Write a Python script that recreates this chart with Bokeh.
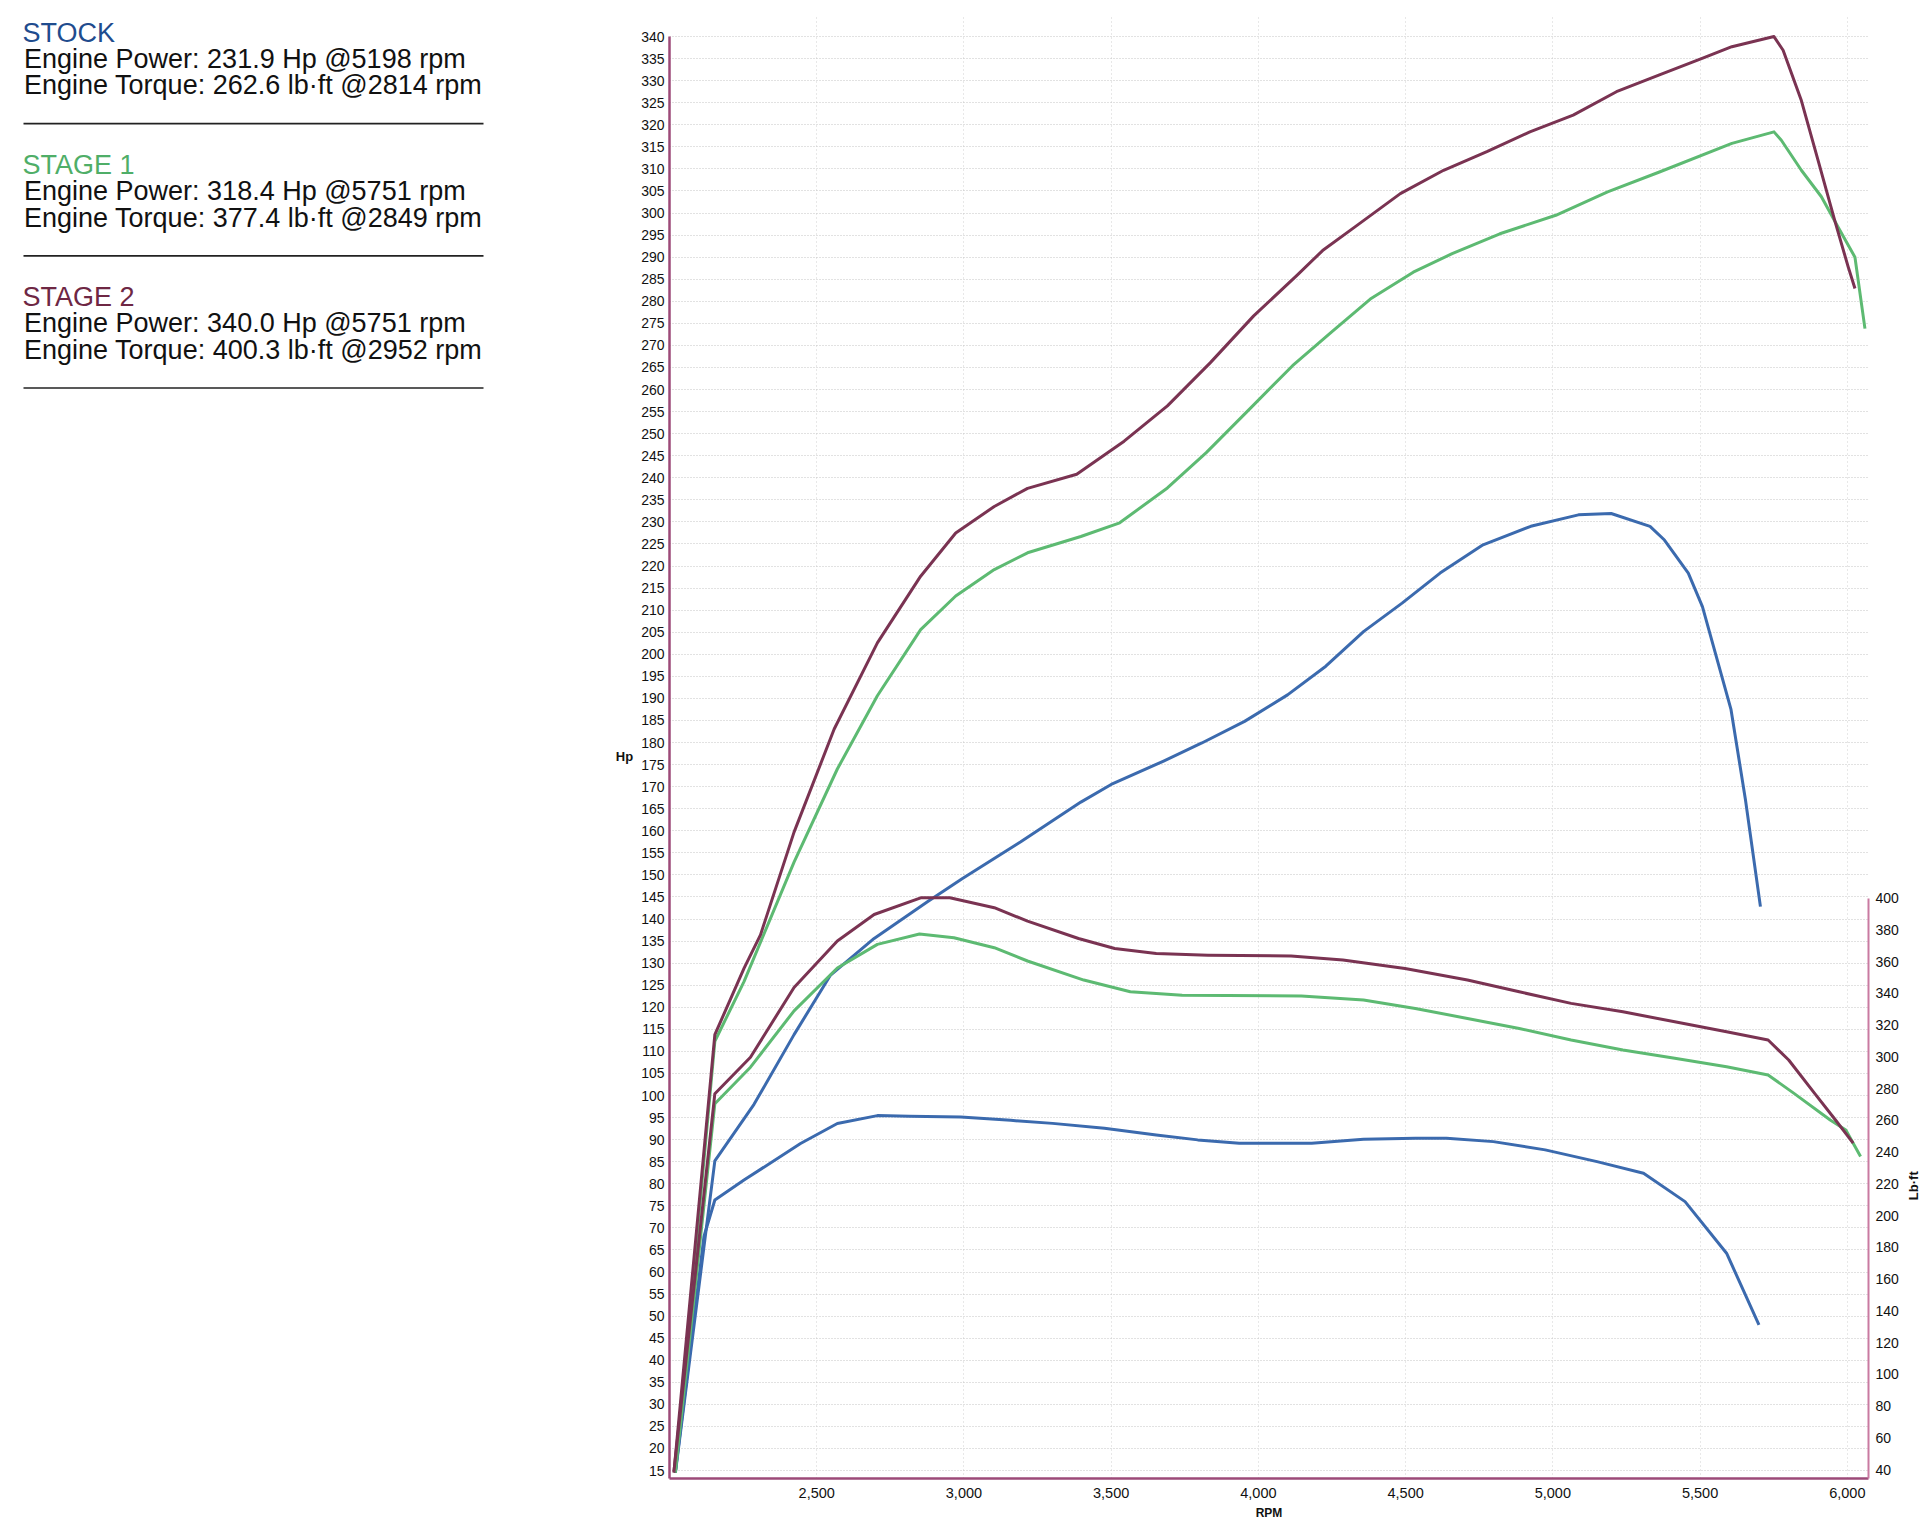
import math
from bokeh.plotting import figure
from bokeh.models import Range1d, LinearAxis, FixedTicker, NumeralTickFormatter
from bokeh.layouts import row
from bokeh.embed import file_html
from bokeh.resources import INLINE
from bokeh.core.properties import value

# ---------------- data ----------------
series_names = ["STOCK", "STAGE 1", "STAGE 2"]
peak_hp = [231.9, 318.4, 340.0]
peak_hp_rpm = [5198, 5751, 5751]
peak_tq = [262.6, 377.4, 400.3]
peak_tq_rpm = [2814, 2849, 2952]

stock_power_rpm = [2020, 2154, 2287, 2423, 2547, 2695, 2876, 2995, 3193, 3397, 3500, 3678, 3808,
                   3953, 4099, 4229, 4358, 4488, 4617, 4763, 4925, 5087, 5198, 5330, 5379, 5460,
                   5508, 5605, 5654, 5705]
stock_power = [14.5, 85.2, 98.0, 113.8, 127.3, 135.6, 143.9, 149.2, 157.5, 166.5, 170.5, 175.8, 179.9,
               184.8, 190.8, 197.3, 205.2, 211.6, 218.4, 224.8, 229.0, 231.6, 231.9, 229.0, 225.9, 218.4,
               210.8, 187.5, 167.1, 142.8]

stock_torque_rpm = [2020, 2117, 2154, 2253, 2445, 2570, 2706, 2814, 2989, 3159, 3301, 3477, 3653, 3794,
                    3935, 4181, 4357, 4533, 4639, 4798, 4974, 5150, 5308, 5449, 5590, 5700]
stock_torque = [38.6, 186.8, 209.8, 222.4, 245.4, 258.0, 263.0, 262.6, 262.1, 260.0, 258.1, 255.0, 250.8, 247.7,
                245.6, 245.6, 248.1, 248.7, 248.7, 246.6, 241.4, 234.0, 226.7, 208.8, 176.3, 131.2]

stage1_power_rpm = [2020, 2154, 2253, 2423, 2570, 2706, 2853, 2972, 3103, 3216, 3397, 3529, 3691, 3823,
                    3969, 4116, 4248, 4380, 4526, 4658, 4820, 5010, 5186, 5362, 5608, 5751, 5776, 5844,
                    5912, 5969, 6026, 6060]
stage1_power = [14.5, 112.3, 125.8, 152.9, 174.0, 190.6, 205.6, 213.2, 219.2, 223.0, 226.7, 229.8, 237.7, 245.7,
                255.5, 265.4, 273.0, 280.5, 286.6, 290.8, 295.3, 299.5, 304.8, 309.3, 315.8, 318.4, 316.5, 309.7,
                303.7, 296.8, 290.0, 273.8]

stage1_torque_rpm = [2020, 2154, 2275, 2423, 2570, 2706, 2849, 2966, 3103, 3216, 3407, 3565, 3741, 4146,
                     4357, 4533, 4710, 4886, 5062, 5238, 5414, 5590, 5731, 5819, 5942, 5995, 6045]
stage1_torque = [38.6, 270.5, 293.5, 329.0, 356.0, 370.9, 377.4, 375.0, 368.8, 360.4, 348.4, 341.0, 338.9, 338.3,
                 335.8, 330.5, 324.2, 317.9, 310.6, 304.3, 299.1, 293.8, 288.6, 277.0, 260.2, 253.9, 237.2]

stage2_power_rpm = [2015, 2154, 2253, 2309, 2423, 2559, 2706, 2853, 2972, 3103, 3216, 3383, 3544, 3691,
                    3837, 3984, 4130, 4218, 4335, 4482, 4629, 4776, 4922, 5069, 5216, 5362, 5509, 5608,
                    5751, 5782, 5844, 5901, 5957, 6003, 6026]
stage2_power = [14.5, 113.8, 128.8, 136.4, 159.7, 183.0, 202.6, 217.7, 227.5, 233.5, 237.6, 240.8, 248.3, 256.3,
                266.1, 276.7, 285.8, 291.5, 297.2, 304.4, 309.7, 313.9, 318.4, 322.2, 327.5, 331.3, 335.1, 337.7,
                340.0, 336.9, 325.5, 311.9, 298.4, 287.8, 282.9]

stage2_torque_rpm = [2015, 2154, 2275, 2423, 2570, 2695, 2853, 2952, 3103, 3216, 3389, 3512, 3653, 3829,
                     4111, 4287, 4498, 4710, 4886, 5062, 5238, 5414, 5590, 5731, 5801, 5889, 5960, 6020]
stage2_torque = [38.6, 276.8, 299.8, 343.7, 373.0, 389.7, 400.2, 400.3, 394.0, 385.5, 374.6, 368.3, 365.1, 364.1,
                 363.5, 361.0, 355.7, 348.4, 341.0, 333.7, 328.4, 322.1, 315.8, 310.6, 298.0, 277.0, 260.2, 245.6]

hp_ticks = list(range(15, 341, 5))
tq_ticks = list(range(40, 401, 20))
rpm_ticks = list(range(2500, 6001, 500))

# ---------------- styles ----------------
FONT = "Liberation Sans"
C_STOCK = "#3b6aae"
C_S1 = "#5dba72"
C_S2 = "#7a3352"
TITLE_COLORS = ["#1f4c8e", "#4fae68", "#6e2744"]
AXIS_C = "#9c4a78"
AXIS_R = "#c97aa1"

H = 1522
W_TXT = 635
W_RIGHT = 16
W_CHART = 1920 - W_TXT - W_RIGHT
TOP = 14      # frame top (page px)
BOTTOM = 1479  # frame bottom (page px)

def py(v):  # page y (from top) -> data y of the side panels
    return H - v

def side_figure(w, x0):
    f = figure(width=w, height=H, x_range=Range1d(x0, x0 + w), y_range=Range1d(H - BOTTOM, H - TOP),
               output_backend="svg", toolbar_location=None, min_border=0,
               min_border_top=TOP, min_border_bottom=H - BOTTOM,
               x_axis_location=None, y_axis_location=None)
    f.grid.visible = False
    f.outline_line_color = None
    return f

# ---------------- left text panel ----------------
txt = side_figure(W_TXT, 0)
for i, name in enumerate(series_names):
    y0 = 32.2 + 132.3 * i   # text anchor
    txt.text(x=[22], y=[py(y0)], text=[name], text_font=value(FONT), text_font_size="27px",
             text_color=TITLE_COLORS[i], text_baseline="alphabetic")
    txt.text(x=[23.5], y=[py(y0 + 26.4)], text=[f"Engine Power: {peak_hp[i]:.1f} Hp @{peak_hp_rpm[i]} rpm"],
             text_font=value(FONT), text_font_size="27px", text_color="#111111", text_baseline="alphabetic")
    txt.text(x=[23.5], y=[py(y0 + 52.7)], text=[f"Engine Torque: {peak_tq[i]:.1f} lb\u00b7ft @{peak_tq_rpm[i]} rpm"],
             text_font=value(FONT), text_font_size="27px", text_color="#111111", text_baseline="alphabetic")
    ys = 123.2 + 132.3 * i
    txt.segment(x0=[23], y0=[py(ys)], x1=[483], y1=[py(ys)], line_color="#222222", line_width=1.6)

txt.text(x=[624], y=[py(757)], text=["Hp"], text_font=value(FONT), text_font_size="13px",
         text_font_style="bold", text_color="#111111", text_align="center", text_baseline="middle")

# ---------------- right strip for the torque axis title ----------------
rt = side_figure(W_RIGHT, 1920 - W_RIGHT)
rt.text(x=[1912.5], y=[py(1186)], text=["Lb\u00b7ft"], text_font=value(FONT), text_font_size="13px",
        text_font_style="bold", text_color="#111111", text_align="center", text_baseline="middle",
        angle=math.pi / 2)

# ---------------- chart ----------------
Y0, Y1 = 13.2, 345.0
def hp_to_tq(h):
    return 40 + (h - 15.23) * 360.0 / 129.5

p = figure(width=W_CHART, height=H, x_range=Range1d(2000, 6072), y_range=Range1d(Y0, Y1),
           output_backend="svg", toolbar_location=None,
           min_border_left=34, min_border_right=36, min_border_top=TOP, min_border_bottom=H - BOTTOM)
p.outline_line_color = None
p.background_fill_color = "white"
p.extra_y_ranges = {"tq": Range1d(hp_to_tq(Y0), hp_to_tq(Y1))}

# grids
p.ygrid.ticker = FixedTicker(ticks=list(range(15, 346, 5)))
p.ygrid.grid_line_color = "#c4c4c4"
p.ygrid.grid_line_dash = "1 2"
p.ygrid.grid_line_width = 1
p.xgrid.ticker = FixedTicker(ticks=rpm_ticks)
p.xgrid.grid_line_color = "#d0d0d0"
p.xgrid.grid_line_dash = "1 3"

def style_axis(ax, color, width, standoff):
    ax.axis_line_color = color
    ax.axis_line_width = width
    ax.major_tick_out = 0
    ax.major_tick_in = 0
    ax.minor_tick_out = 0
    ax.minor_tick_in = 0
    ax.major_label_text_font = FONT
    ax.major_label_text_font_size = "14px"
    ax.major_label_text_color = "#111111"
    ax.major_label_standoff = standoff

yl = p.yaxis[0]
yl.ticker = FixedTicker(ticks=hp_ticks)
yl.bounds = (Y0, 340)
style_axis(yl, AXIS_C, 2.5, 5)

xb = p.xaxis[0]
xb.ticker = FixedTicker(ticks=rpm_ticks)
xb.formatter = NumeralTickFormatter(format="0,0")
style_axis(xb, AXIS_C, 2.5, 9)
xb.major_label_text_font_size = "14.5px"
xb.axis_label = "RPM"
xb.axis_label_standoff = 5
xb.axis_label_text_font = FONT
xb.axis_label_text_font_size = "12px"
xb.axis_label_text_font_style = "bold"
xb.axis_label_text_color = "#111111"

yr = LinearAxis(y_range_name="tq", ticker=FixedTicker(ticks=tq_ticks), bounds=(hp_to_tq(Y0), 400))
style_axis(yr, AXIS_R, 2, 7)
p.add_layout(yr, "right")

# curves
p.line(stock_power_rpm, stock_power, line_color=C_STOCK, line_width=3, line_join="round")
p.line(stage1_power_rpm, stage1_power, line_color=C_S1, line_width=3, line_join="round")
p.line(stage2_power_rpm, stage2_power, line_color=C_S2, line_width=3, line_join="round")
p.line(stock_torque_rpm, stock_torque, line_color=C_STOCK, line_width=3, line_join="round", y_range_name="tq")
p.line(stage1_torque_rpm, stage1_torque, line_color=C_S1, line_width=3, line_join="round", y_range_name="tq")
p.line(stage2_torque_rpm, stage2_torque, line_color=C_S2, line_width=3, line_join="round", y_range_name="tq")

layout = row(txt, p, rt)
open("out.html", "w").write(file_html(layout, INLINE))
